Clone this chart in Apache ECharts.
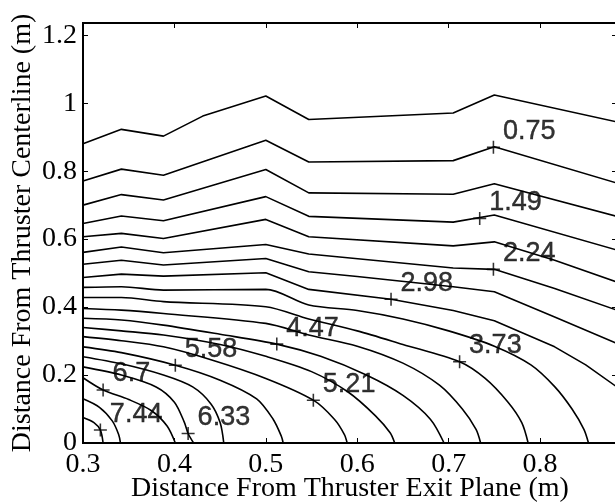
<!DOCTYPE html>
<html>
<head>
<meta charset="utf-8">
<script src="https://cdn.jsdelivr.net/npm/echarts@6/dist/echarts.min.js"></script>
<style>html,body{margin:0;padding:0;background:#fff}#c{width:615px;height:504px}</style>
</head>
<body>
<div id="c"></div>
<script>
// Contour levels (value of each contour line)
const levels = [0.37, 0.75, 1.12, 1.49, 1.86, 2.24, 2.61, 2.98, 3.35, 3.73, 4.10, 4.47, 4.84, 5.21, 5.58, 5.96, 6.33, 6.70, 7.07, 7.44];
// Contour lines: [x (m), y (m)]
const c1 = [[0.3,0.881],[0.342,0.923],[0.388,0.903],[0.431,0.962],[0.5,1.021],[0.547,0.952],[0.705,0.971],[0.75,1.024],[0.884,0.945]];
const c2 = [[0.3,0.771],[0.342,0.806],[0.388,0.788],[0.5,0.891],[0.547,0.827],[0.705,0.831],[0.75,0.872],[0.884,0.765]];
const c3 = [[0.3,0.700],[0.342,0.731],[0.388,0.715],[0.5,0.805],[0.547,0.736],[0.705,0.732],[0.75,0.763],[0.884,0.667]];
const c4 = [[0.3,0.646],[0.342,0.668],[0.388,0.654],[0.5,0.725],[0.547,0.667],[0.705,0.650],[0.75,0.671],[0.884,0.568]];
const c5 = [[0.3,0.607],[0.342,0.617],[0.388,0.602],[0.5,0.658],[0.547,0.607],[0.705,0.580],[0.75,0.592],[0.816,0.538],[0.884,0.474]];
const c6 = [[0.3,0.561],[0.342,0.577],[0.388,0.560],[0.5,0.584],[0.547,0.556],[0.705,0.515],[0.75,0.511],[0.816,0.455],[0.884,0.391]];
const c7 = [[0.3,0.526],[0.342,0.538],[0.388,0.524],[0.5,0.543],[0.547,0.504],[0.6,0.490],[0.705,0.460],[0.75,0.445],[0.816,0.371],[0.884,0.293]];
const c8 = [[0.3,0.487],[0.342,0.497],[0.388,0.491],[0.5,0.501],[0.547,0.452],[0.637,0.423],[0.705,0.390],[0.75,0.360],[0.816,0.283],[0.85,0.230],[0.884,0.165]];
const c9 = [[0.3,0.458],[0.342,0.460],[0.388,0.450],[0.5,0.452],[0.547,0.406],[0.6,0.390],[0.65,0.365],[0.7,0.330],[0.75,0.285],[0.79,0.230],[0.816,0.166],[0.835,0.100],[0.848,0.040],[0.853,0]];
const c10 = [[0.3,0.428],[0.342,0.428],[0.388,0.416],[0.5,0.401],[0.547,0.365],[0.6,0.330],[0.65,0.290],[0.712,0.239],[0.74,0.190],[0.765,0.120],[0.78,0.060],[0.787,0]];
const c11 = [[0.3,0.396],[0.342,0.391],[0.388,0.381],[0.5,0.352],[0.547,0.318],[0.6,0.285],[0.65,0.235],[0.69,0.170],[0.715,0.100],[0.73,0.040],[0.735,0]];
const c12 = [[0.3,0.367],[0.342,0.362],[0.388,0.347],[0.45,0.320],[0.512,0.291],[0.56,0.255],[0.61,0.200],[0.65,0.140],[0.68,0.070],[0.695,0]];
const c13 = [[0.3,0.340],[0.342,0.330],[0.388,0.318],[0.45,0.290],[0.5,0.255],[0.55,0.210],[0.59,0.150],[0.62,0.080],[0.636,0.030],[0.641,0]];
const c14 = [[0.3,0.313],[0.342,0.301],[0.388,0.283],[0.44,0.245],[0.5,0.190],[0.552,0.126],[0.575,0.070],[0.586,0.025],[0.589,0]];
const c15 = [[0.3,0.283],[0.342,0.266],[0.401,0.229],[0.45,0.185],[0.49,0.130],[0.508,0.070],[0.517,0.020],[0.519,0]];
const c16 = [[0.3,0.254],[0.342,0.233],[0.388,0.200],[0.42,0.165],[0.44,0.115],[0.45,0.060],[0.454,0]];
const c17 = [[0.3,0.224],[0.342,0.200],[0.38,0.165],[0.40,0.120],[0.411,0.060],[0.415,0.028],[0.421,0]];
const c18 = [[0.3,0.192],[0.322,0.156],[0.35,0.128],[0.375,0.095],[0.392,0.050],[0.401,0]];
const c19 = [[0.3,0.130],[0.318,0.105],[0.332,0.065],[0.339,0.025],[0.341,0]];
const c20 = [[0.3,0.075],[0.312,0.060],[0.319,0.038],[0.322,0]];
const contours = [c1,c2,c3,c4,c5,c6,c7,c8,c9,c10,c11,c12,c13,c14,c15,c16,c17,c18,c19,c20];
// Contour labels: [x, y, text]
const labelPts = [[0.749,0.870,'0.75'],[0.734,0.661,'1.49'],[0.749,0.511,'2.24'],[0.637,0.423,'2.98'],[0.712,0.239,'3.73'],[0.512,0.291,'4.47'],[0.552,0.126,'5.21'],[0.401,0.229,'5.58'],[0.415,0.028,'6.33'],[0.322,0.156,'6.7'],[0.319,0.038,'7.44']];
const xTicks = [0.3,0.4,0.5,0.6,0.7,0.8];
const yTicks = [0,0.2,0.4,0.6,0.8,1,1.2];

const chart = echarts.init(document.getElementById('c'), null, {renderer:'canvas'});
const serif = 'Liberation Serif';
function axisBase(extra){
  return Object.assign({
    type:'value', gridIndex:0, show:true,
    axisLine:{show:true, onZero:false, lineStyle:{color:'#000', width:2}},
    axisTick:{show:true, inside:true, length:5, lineStyle:{color:'#000', width:1}},
    splitLine:{show:false}
  }, extra);
}
const series = contours.map((d,i)=>({
  type:'line', name:String(levels[i]), data:d, symbol:'none', smooth: i>=8 ? 0.3 : false, clip:true,
  xAxisIndex:0, yAxisIndex:0,
  lineStyle:{color:'#000', width:1.6}, animation:false, silent:true
}));
series.push({
  type:'scatter', data:labelPts.map(p=>[p[0],p[1],p[2]]), xAxisIndex:0, yAxisIndex:0,
  symbol:'path://M4.4,0h1.2v4.4h4.4v1.2h-4.4v4.4h-1.2v-4.4h-4.4v-1.2h4.4z',
  symbolSize:13, itemStyle:{color:'#000'}, animation:false, silent:true,
  label:{show:true, position:'right', distance:3, offset:[0,-16], formatter:p=>p.data[2],
    fontFamily:'Liberation Sans', fontSize:27, color:'#000', textBorderColor:'#000', textBorderWidth:0.4}
});
chart.setOption({
  backgroundColor:'#fff', animation:false,
  grid:{left:83, top:23, width:534, height:420, containLabel:false, outerBoundsMode:'none',
    show:true, borderColor:'#000', borderWidth:2, backgroundColor:'transparent'},
  xAxis:[
    axisBase({position:'bottom', min:0.3, max:0.8842, interval:0.1,
      axisLabel:{show:true, color:'#000', fontFamily:serif, fontSize:28, margin:8, showMaxLabel:false,
        formatter:v=>{const r=Math.round(v*10)/10; return xTicks.indexOf(r)>=0?String(r):'';}},
      name:'Distance From Thruster Exit Plane (m)', nameLocation:'middle', nameGap:32, nameMoveOverlap:false,
      nameTextStyle:{color:'#000', fontFamily:serif, fontSize:28}}),
    axisBase({position:'top', min:0.3, max:0.8842, interval:0.1, axisLabel:{show:false}})
  ],
  yAxis:[
    axisBase({position:'left', min:0, max:1.236, interval:0.2,
      axisLabel:{show:true, color:'#000', fontFamily:serif, fontSize:28, margin:6, showMaxLabel:false,
        formatter:v=>{const r=Math.round(v*10)/10; return yTicks.indexOf(r)>=0?String(r):'';}},
      name:'Distance From Thruster Centerline (m)', nameLocation:'middle', nameGap:46, nameMoveOverlap:false,
      nameTextStyle:{color:'#000', fontFamily:serif, fontSize:28}}),
    axisBase({position:'right', min:0, max:1.236, interval:0.2, axisLabel:{show:false}})
  ],
  series:series
});
</script>
</body>
</html>
